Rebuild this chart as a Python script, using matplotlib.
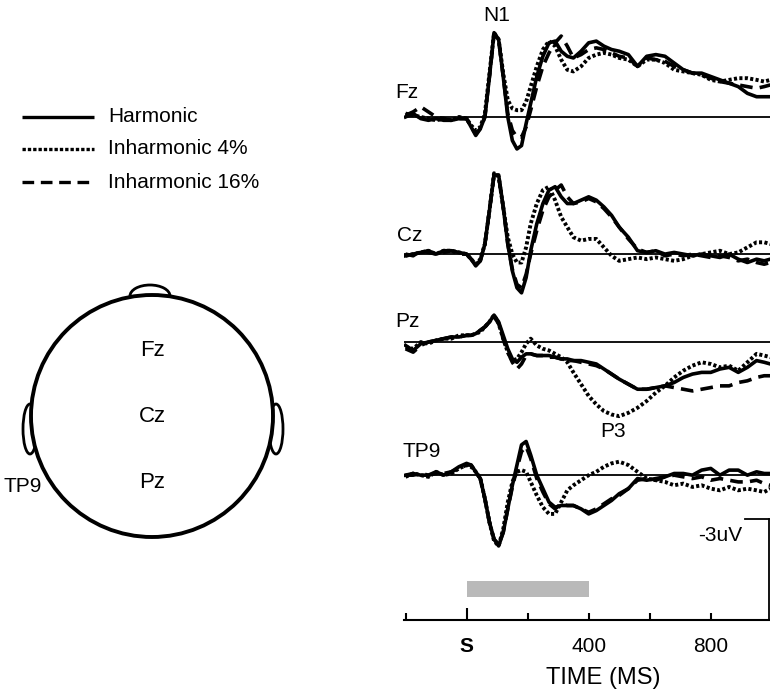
import matplotlib
matplotlib.use('Agg')
import matplotlib.pyplot as plt
from matplotlib.patches import Circle, Ellipse
import numpy as np

plt.rcParams['font.family'] = ['Liberation Sans', 'DejaVu Sans']

# time points (ms) shared by all traces
t = [-200, -175, -150, -125, -100, -75, -50, -25, 0,
     15, 30, 45, 60, 75, 90, 105, 120, 135, 150, 165, 180, 195, 210,
     230, 250, 270, 290, 310, 330, 350,
     375, 400, 425, 450, 475, 500,
     530, 560, 590, 620, 650, 680, 710, 740, 770, 800, 830, 860, 890, 920, 950,
     975, 995]

# amplitudes in uV (negative = up)
fz_harm = [0.0, -0.1, 0.05, 0.1, 0.05, 0.1, 0.1, 0.05, 0.05,
           0.3, 0.55, 0.35, 0.0, -1.2, -2.5, -2.3, -1.2, 0.0, 0.7, 0.95, 0.85, 0.2, -0.4,
           -1.2, -1.8, -2.2, -2.25, -1.95, -1.8, -1.75,
           -1.95, -2.2, -2.25, -2.1, -2.0, -1.95,
           -1.85, -1.5, -1.8, -1.85, -1.8, -1.6, -1.4, -1.3, -1.3, -1.2, -1.1, -1.0, -0.9, -0.7, -0.6,
           -0.6, -0.6]
fz_inh4 = [-0.1, -0.05, 0.0, 0.05, 0.1, 0.05, 0.1, 0.0, 0.05,
           0.25, 0.4, 0.3, -0.1, -1.3, -2.5, -2.3, -1.3, -0.5, -0.25, -0.2, -0.2, -0.45, -0.9,
           -1.5, -2.0, -2.25, -2.1, -1.7, -1.4, -1.35,
           -1.5, -1.75, -1.85, -1.9, -1.85, -1.75,
           -1.7, -1.5, -1.7, -1.7, -1.6, -1.4, -1.35, -1.3, -1.25, -1.1, -1.05, -1.1, -1.15, -1.15, -1.1,
           -1.05, -1.1]
fz_inh16 = [-0.05, -0.15, -0.3, -0.15, 0.0, 0.05, 0.1, 0.05, 0.05,
            0.3, 0.5, 0.35, 0.0, -1.2, -2.45, -2.3, -1.2, -0.1, 0.4, 0.6, 0.6, 0.3, -0.2,
            -0.9, -1.5, -1.9, -2.2, -2.4, -2.1, -1.75,
            -1.85, -2.0, -2.05, -2.0, -1.9, -1.8,
            -1.75, -1.5, -1.75, -1.7, -1.65, -1.5, -1.4, -1.3, -1.25, -1.15, -1.05, -1.0, -0.95, -0.9, -0.85,
            -0.9, -0.95]

cz_harm = [0.05, 0.0, -0.05, -0.1, 0.0, -0.1, -0.1, -0.05, 0.0,
           0.15, 0.35, 0.2, -0.3, -1.3, -2.35, -2.35, -1.4, -0.3, 0.5, 1.0, 1.15, 0.7, -0.1,
           -0.9, -1.5, -1.9, -2.0, -1.7, -1.5, -1.5,
           -1.6, -1.7, -1.6, -1.4, -1.15, -0.8,
           -0.5, -0.1, -0.05, -0.1, 0.0, -0.05, 0.0, 0.05, 0.0, 0.05, 0.1, 0.0, 0.15, 0.25, 0.15,
           0.2, 0.15]
cz_inh4 = [0.05, 0.0, -0.05, -0.1, 0.0, -0.1, -0.1, -0.05, 0.0,
           0.15, 0.3, 0.15, -0.3, -1.3, -2.4, -2.3, -1.4, -0.5, 0.0, 0.25, 0.25, -0.2, -0.9,
           -1.5, -1.9, -2.0, -1.6, -1.1, -0.8, -0.5,
           -0.4, -0.45, -0.45, -0.2, 0.05, 0.2,
           0.15, 0.1, 0.15, 0.1, 0.15, 0.2, 0.15, 0.05, 0.0, -0.05, -0.1, 0.0, -0.05, -0.2, -0.35,
           -0.35, -0.3]
cz_inh16 = [0.0, 0.05, -0.1, -0.05, 0.0, -0.05, -0.1, 0.0, 0.0,
            0.15, 0.3, 0.2, -0.3, -1.3, -2.35, -2.3, -1.4, -0.3, 0.45, 0.9, 1.0, 0.6, 0.0,
            -0.7, -1.3, -1.7, -1.9, -2.05, -1.7, -1.5,
            -1.55, -1.65, -1.55, -1.35, -1.1, -0.8,
            -0.45, -0.15, -0.05, -0.1, 0.05, 0.0, 0.05, 0.0, 0.05, 0.1, 0.05, 0.1, 0.2, 0.15, 0.25,
            0.3, 0.25]

pz_harm = [0.1, 0.25, 0.05, 0.0, -0.05, -0.1, -0.15, -0.15, -0.2,
           -0.2, -0.25, -0.35, -0.45, -0.6, -0.8, -0.6, -0.2, 0.2, 0.5, 0.6, 0.45, 0.35, 0.35,
           0.4, 0.4, 0.4, 0.45, 0.5, 0.5, 0.55,
           0.55, 0.6, 0.65, 0.8, 0.95, 1.1,
           1.25, 1.4, 1.4, 1.35, 1.3, 1.2, 1.05, 0.95, 0.9, 0.9, 0.8, 0.75, 0.9, 0.75, 0.55,
           0.6, 0.65]
pz_inh4 = [0.15, 0.2, 0.0, 0.05, -0.05, -0.1, -0.1, -0.2, -0.2,
           -0.2, -0.25, -0.3, -0.45, -0.6, -0.8, -0.55, -0.1, 0.3, 0.55, 0.5, 0.3, 0.05, -0.1,
           0.1, 0.2, 0.25, 0.35, 0.45, 0.6, 0.9,
           1.25, 1.6, 1.85, 2.05, 2.15, 2.2,
           2.1, 1.95, 1.75, 1.5, 1.3, 1.05, 0.85, 0.7, 0.6, 0.65, 0.75, 0.7, 0.85, 0.6, 0.35,
           0.4, 0.45]
pz_inh16 = [0.2, 0.3, 0.1, 0.0, -0.05, -0.1, -0.15, -0.15, -0.2,
            -0.2, -0.25, -0.35, -0.45, -0.6, -0.75, -0.55, -0.1, 0.3, 0.6, 0.8, 0.65, 0.4, 0.35,
            0.4, 0.4, 0.45, 0.45, 0.5, 0.55, 0.55,
            0.6, 0.65, 0.7, 0.8, 0.95, 1.1,
            1.25, 1.4, 1.4, 1.35, 1.3, 1.35, 1.4, 1.45, 1.4, 1.35, 1.3, 1.3, 1.2, 1.15, 1.05,
            1.0, 1.0]

tp9_harm = [0.0, -0.05, 0.0, 0.0, -0.1, 0.0, -0.1, -0.25, -0.35,
            -0.3, -0.1, 0.1, 0.7, 1.4, 1.9, 2.1, 1.7, 1.0, 0.3, -0.3, -0.9, -1.0, -0.6,
            0.0, 0.4, 0.8, 0.95, 0.9, 0.9, 0.9,
            1.0, 1.15, 1.05, 0.9, 0.75, 0.55,
            0.4, 0.1, 0.15, 0.1, 0.05, -0.05, -0.05, 0.0, -0.15, -0.2, 0.0, -0.15, -0.15, 0.0, -0.1,
            -0.05, -0.05]
tp9_inh4 = [0.05, -0.05, 0.0, 0.05, -0.1, 0.0, -0.05, -0.2, -0.3,
            -0.25, -0.1, 0.1, 0.7, 1.4, 1.95, 2.1, 1.6, 0.8, 0.2, -0.1, -0.15, -0.1, 0.2,
            0.6, 0.95, 1.15, 1.15, 0.8, 0.45, 0.3,
            0.15, 0.0, -0.1, -0.25, -0.35, -0.4,
            -0.3, -0.1, 0.1, 0.15, 0.2, 0.3, 0.25, 0.35, 0.3, 0.4, 0.45, 0.35, 0.45, 0.4, 0.45,
            0.5, 0.4]
tp9_inh16 = [0.0, 0.0, -0.05, 0.0, -0.05, -0.05, -0.1, -0.2, -0.3,
             -0.3, -0.1, 0.1, 0.7, 1.4, 1.9, 2.05, 1.7, 1.0, 0.35, -0.2, -0.7, -0.85, -0.5,
             0.1, 0.5, 0.85, 1.0, 0.85, 0.9, 0.9,
             1.0, 1.1, 1.0, 0.85, 0.7, 0.6,
             0.4, 0.15, 0.1, 0.15, 0.05, 0.0, 0.05, 0.1, 0.05, 0.15, 0.1, 0.15, 0.2, 0.2, 0.15,
             0.25, 0.3]

channels = ['Fz', 'Cz', 'Pz', 'TP9']
offsets = [3.47, 7.54, 10.15, 14.1]   # baseline of each channel, uV units from top
harm = [fz_harm, cz_harm, pz_harm, tp9_harm]
inh4 = [fz_inh4, cz_inh4, pz_inh4, tp9_inh4]
inh16 = [fz_inh16, cz_inh16, pz_inh16, tp9_inh16]

W, H = 770, 693
fig = plt.figure(figsize=(W / 100, H / 100), dpi=100)

# left panel drawn in pixel coords
ax0 = fig.add_axes([0, 0, 1, 1])
ax0.set_xlim(0, W)
ax0.set_ylim(H, 0)
ax0.axis('off')

leg_y = [117, 149, 182]
leg_txt = ['Harmonic', 'Inharmonic 4%', 'Inharmonic 16%']
leg_ls = ['-', (0, (1, 0.6)), (0, (3.5, 2))]
for y, s, ls in zip(leg_y, leg_txt, leg_ls):
    ax0.plot([22, 94], [y, y], color='black', lw=2.4, ls=ls, solid_capstyle='butt')
    ax0.text(108, y, s, fontsize=15, va='center', ha='left')

# head
ax0.add_patch(Ellipse((150, 296), 40, 22, fc='white', ec='black', lw=2))
ax0.add_patch(Ellipse((30, 429), 14, 50, fc='white', ec='black', lw=2))
ax0.add_patch(Ellipse((276, 429), 14, 50, fc='white', ec='black', lw=2))
ax0.add_patch(Circle((152, 416), 121, fc='white', ec='black', lw=2.8, zorder=3))
for name, (x, y) in zip(['Fz', 'Cz', 'Pz'], [(152, 350), (152, 416), (152, 483)]):
    ax0.text(x, y, name, fontsize=16, ha='center', va='center', zorder=4)
ax0.text(3, 486, 'TP9', fontsize=15, ha='left', va='center', zorder=4)

# right panel: ERP traces
ax = fig.add_axes([404 / W, (H - 620) / H, 366 / W, 620 / H])
ax.patch.set_alpha(0)
ax.set_xlim(-205, 994)
ax.set_ylim(620 / 33.7, 0)

for name, off, h, i4, i16 in zip(channels, offsets, harm, inh4, inh16):
    ax.axhline(off, color='black', lw=1.3)
    ax.plot(t, off + np.array(h), color='black', lw=2.6)
    ax.plot(t, off + np.array(i4), color='black', lw=2.8, ls=(0, (0.8, 0.6)))
    ax.plot(t, off + np.array(i16), color='black', lw=2.6, ls=(0, (3.5, 2)))

label_pos = {'Fz': (-235, 2.75), 'Cz': (-228, 7.0), 'Pz': (-235, 9.55), 'TP9': (-209, 13.4)}
for name in channels:
    x, y = label_pos[name]
    ax.text(x, y, name, fontsize=15, ha='left', va='center', clip_on=False)
ax.text(98, 0.45, 'N1', fontsize=15, ha='center', va='center', clip_on=False)
ax.text(480, 12.8, 'P3', fontsize=15, ha='center', va='center')

# stimulus bar
ax.fill_between([0, 400], 17.24, 17.71, color='#b9b9b9', lw=0)

# scale bar
ax.plot([912, 990], [15.4, 15.4], color='black', lw=1.3, clip_on=False)
ax.plot([990, 990], [15.4, 18.4], color='black', lw=1.3, clip_on=False)
ax.text(830, 15.9, '-3uV', fontsize=15, ha='center', va='center')

for sp in ['top', 'right', 'left']:
    ax.spines[sp].set_visible(False)
ax.spines['bottom'].set_linewidth(1.5)
ax.set_yticks([])
ax.set_xticks([-200, 0, 200, 400, 600, 800])
ax.set_xticklabels(['', 'S', '', '400', '', '800'], fontsize=15)
ax.tick_params(axis='x', direction='in', length=5, width=1.5, pad=12)
ax.xaxis.get_major_ticks()[1].tick1line.set_markersize(9)
ax.get_xticklabels()[1].set_fontweight('bold')
fig.text(603 / W, 1 - 678 / H, 'TIME (MS)', fontsize=17, ha='center', va='center')

fig.savefig('out.png', dpi=100)
